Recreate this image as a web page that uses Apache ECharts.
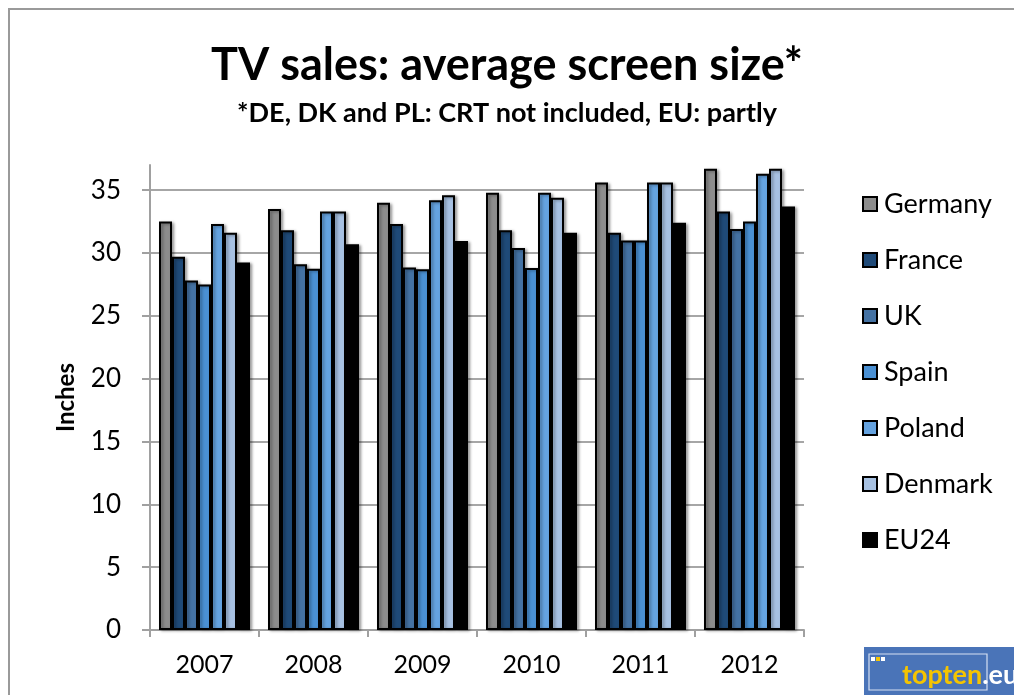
<!DOCTYPE html>
<html>
<head>
<meta charset="utf-8">
<script src="https://cdn.jsdelivr.net/npm/echarts@6/dist/echarts.min.js"></script>
<style>
  html, body { margin: 0; padding: 0; background: #fff; }
  #chart { width: 1014px; height: 695px; }
</style>
</head>
<body>
<div id="chart"></div>
<script>
var years = ['2007', '2008', '2009', '2010', '2011', '2012'];
var countries = ['Germany', 'France', 'UK', 'Spain', 'Poland', 'Denmark', 'EU24'];
var colors = ['#8d8d8d', '#1f4a78', '#4472a3', '#4a90d3', '#65a3e0', '#a7c1e2', '#000000'];

// average screen size in inches, per year
var germany = [32.5, 33.5, 34.0, 34.8, 35.6, 36.7];
var france  = [29.7, 31.8, 32.3, 31.8, 31.6, 33.3];
var uk      = [27.8, 29.1, 28.85, 30.4, 31.0, 31.9];
var spain   = [27.5, 28.75, 28.7, 28.8, 31.0, 32.5];
var poland  = [32.3, 33.3, 34.2, 34.8, 35.6, 36.3];
var denmark = [31.6, 33.3, 34.6, 34.4, 35.6, 36.7];
var eu24    = [29.25, 30.7, 30.95, 31.6, 32.4, 33.7];

var yTicks = [0, 5, 10, 15, 20, 25, 30, 35];

var values = [germany, france, uk, spain, poland, denmark, eu24];

var chart = echarts.init(document.getElementById('chart'));

var series = countries.map(function (name, i) {
  return {
    name: name,
    type: 'bar',
    data: values[i],
    barWidth: 13,
    barGap: '0%',
    itemStyle: {
      color: colors[i],
      borderColor: '#000',
      borderWidth: 2,
      shadowColor: 'rgba(0,0,0,0.35)',
      shadowBlur: 3,
      shadowOffsetX: 2,
      shadowOffsetY: 1
    }
  };
});

chart.setOption({
  animation: false,
  backgroundColor: '#fff',
  textStyle: { fontFamily: 'Lato' },
  title: [
    {
      text: 'TV sales: average screen size*',
      left: 'center',
      top: 38,
      textStyle: { fontSize: 45, fontWeight: 'bold', color: '#000', fontFamily: 'Lato' }
    },
    {
      text: '*DE, DK and PL: CRT not included, EU: partly',
      left: 'center',
      top: 95,
      textStyle: { fontSize: 27, fontWeight: 'bold', color: '#000', fontFamily: 'Lato' }
    }
  ],
  legend: {
    orient: 'vertical',
    left: 857,
    top: 185,
    itemWidth: 14,
    itemHeight: 14,
    itemGap: 28,
    icon: 'rect',
    itemStyle: { borderColor: '#000', borderWidth: 2 },
    textStyle: { fontSize: 27, color: '#000', lineHeight: 28, padding: [0, 0, 0, 2] },
    data: countries
  },
  grid: { left: 150, right: 210, top: 165, bottom: 65, containLabel: false },
  xAxis: {
    type: 'category',
    data: years,
    axisLine: { lineStyle: { color: '#a0a0a0', width: 2 } },
    axisTick: { show: true, length: 7, lineStyle: { color: '#a0a0a0', width: 2 } },
    axisLabel: { fontSize: 25, color: '#000', margin: 22 }
  },
  yAxis: {
    type: 'value',
    min: 0,
    max: 37,
    interval: 5,
    name: 'Inches',
    nameLocation: 'middle',
    nameGap: 72,
    nameTextStyle: { fontSize: 24, fontWeight: 'bold', color: '#000' },
    axisLine: { show: true, lineStyle: { color: '#a0a0a0', width: 2 } },
    axisTick: { show: true, length: 8, customValues: yTicks, lineStyle: { color: '#a0a0a0', width: 2 } },
    axisLabel: { fontSize: 26, color: '#000', margin: 29, customValues: yTicks },
    splitLine: { show: true, lineStyle: { color: '#a6a6a6', width: 2 } }
  },
  graphic: [
    {
      type: 'rect',
      shape: { x: 9, y: 9, width: 1100, height: 1000 },
      style: { fill: null, stroke: '#9a9a9a', lineWidth: 2 },
      silent: true
    },
    {
      type: 'group',
      left: 864,
      top: 647,
      children: [
        { type: 'rect', shape: { x: 0, y: 0, width: 150, height: 48 }, style: { fill: '#4a74b8' } },
        { type: 'rect', shape: { x: 5, y: 7, width: 118, height: 36 }, style: { fill: null, stroke: '#d6e0f2', lineWidth: 1.2 } },
        { type: 'rect', shape: { x: 7, y: 10, width: 4, height: 4 }, style: { fill: '#ffffff' } },
        { type: 'rect', shape: { x: 12, y: 10, width: 4, height: 4 }, style: { fill: '#f5c400' } },
        { type: 'rect', shape: { x: 17, y: 10, width: 4, height: 4 }, style: { fill: '#ffffff' } },
        {
          type: 'text',
          x: 38, y: 15,
          style: {
            text: '{a|topten}{b|.eu}',
            rich: {
              a: { fontSize: 27, fontWeight: 'bold', fill: '#f5c400', fontFamily: 'Lato' },
              b: { fontSize: 27, fontWeight: 'bold', fill: '#ffffff', fontFamily: 'Lato' }
            }
          }
        }
      ]
    }
  ],
  series: series
});
</script>
</body>
</html>
